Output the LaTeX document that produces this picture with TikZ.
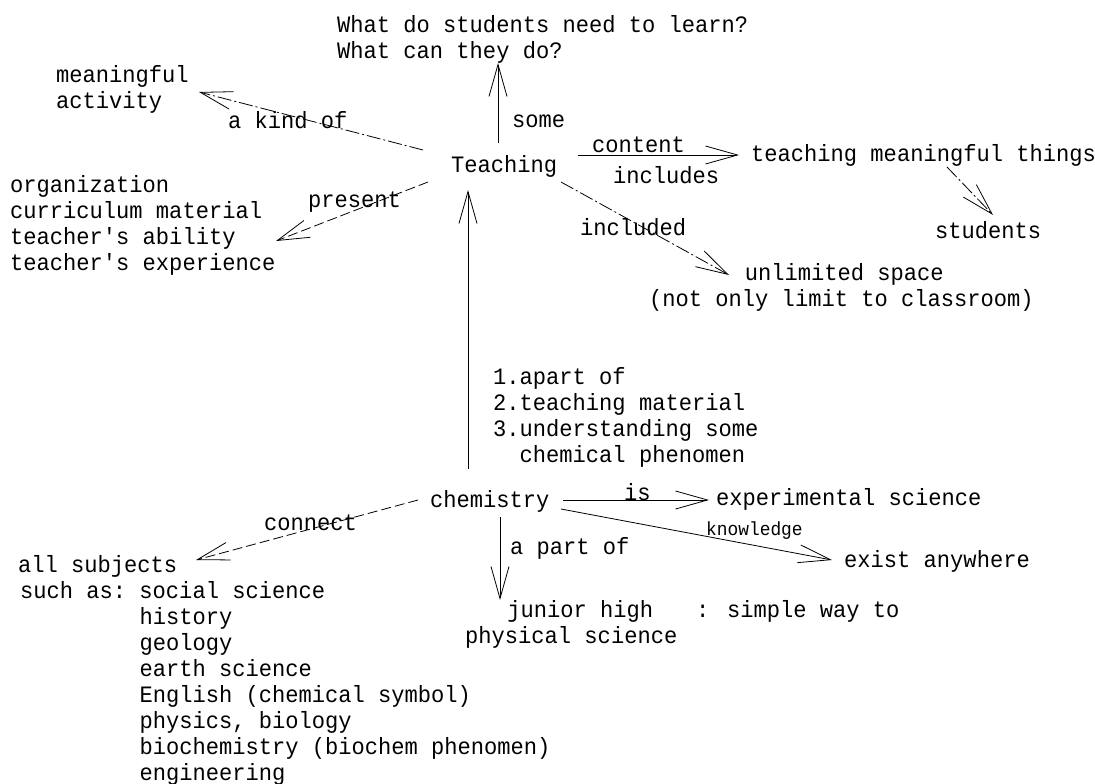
\documentclass[tikz,border=0pt]{standalone}
\usepackage{fontspec}
\setmainfont{Liberation Mono}[FakeStretch=0.94, WordSpace={1,0,0}, Ligatures=TeXOff]
\usetikzlibrary{arrows.meta}
\tikzset{
  concept/.style={inner sep=0pt, anchor=base west, font=\fontsize{23.5}{26}\selectfont},
  block/.style={concept, text width=#1,
    execute at begin node={\spaceskip=\fontdimen2\font\xspaceskip=\fontdimen2\font\relax}},
  lbl/.style={concept},
  smalllbl/.style={inner sep=0pt, anchor=base west, font=\fontsize{19}{21}\selectfont},
  link/.style={line width=0.8pt, -{Straight Barb[length=32pt,width=18pt]}},
  broken/.style={link, dash pattern=on 14pt off 3pt on 2pt off 3pt},
  dashlink/.style={link, dash pattern=on 10pt off 4pt}
}
\begin{document}
\begin{tikzpicture}[x=1pt,y=-1pt]
  \useasboundingbox (0,0) rectangle (1095,784);
  \node[block=440pt] (need) at (337,33) {What do students need to learn?\\What can they do?};
  \node[block=160pt] (meaning) at (56,82) {meaningful\\activity};
  \node[concept] (teach) at (451,172) {Teaching};
  \node[block=300pt] (orgs) at (10,192) {organization\\curriculum material\\teacher's ability\\teacher's experience};
  \node[concept] (things) at (751,161) {teaching meaningful things};
  \node[concept] (students) at (935,238) {students};
  \node[block=390pt] (space) at (649,280) {\centering unlimited space\\(not only limit to classroom)};
  \node[concept] (chem) at (430,507) {chemistry};
  \node[concept] (expsci) at (716,505) {experimental science};
  \node[concept] (exist) at (844,567) {exist anywhere};
  \node[block=230pt] (jhigh) at (465,617) {\centering junior high\\physical science};
  \node[concept] (simple) at (696,617) {: simple way to};
  \node[concept] (allsub) at (18,572) {all subjects};
  \node[block=600pt] (suchas) at (20,598) {such as: social science\\
    \phantom{such as: }history\\\phantom{such as: }geology\\
    \phantom{such as: }earth science\\\phantom{such as: }English (chemical symbol)\\
    \phantom{such as: }physics, biology\\\phantom{such as: }biochemistry (biochem phenomen)\\
    \phantom{such as: }engineering};

  \node[lbl] (l-some) at (512,127) {some};
  \node[lbl] (l-kind) at (228,128) {a kind of};
  \node[lbl] (l-present) at (308,207) {present};
  \node[lbl] (l-content) at (592,152) {content};
  \node[lbl] (l-includes) at (613,183) {includes};
  \node[lbl] (l-included) at (580,235) {included};
  \node[block=320pt] (l-reasons) at (493,384) {1.apart of\\2.teaching material\\3.understanding some\\\phantom{1.}chemical phenomen};
  \node[lbl] (l-connect) at (264,530) {connect};
  \node[lbl] (l-partof) at (510,554) {a part of};
  \node[lbl] (l-is) at (624,500) {is};
  \node[smalllbl] (l-know) at (706,535) {knowledge};

  \draw[link] ([shift={(47,-29)}]teach.base west) -- ([shift={(161,30)}]need.base west);
  \draw[broken] ([shift={(-28,-22)}]teach.base west) -- ([shift={(143,10)}]meaning.base west);
  \draw[dashlink] ([shift={(-23,10)}]teach.base west) -- ([shift={(266,49)}]orgs.base west);
  \draw[link] ([shift={(127,-17)}]teach.base west) -- ([shift={(-12,-6)}]things.base west);
  \draw[broken] ([shift={(196,6)}]things.base west) -- ([shift={(58,-23)}]students.base west);
  \draw[broken] ([shift={(110,10)}]teach.base west) -- ([shift={(80,-5)}]space.base west);
  \draw[link] ([shift={(38,-38)}]chem.base west) -- ([shift={(17,18)}]teach.base west);
  \draw[dashlink] ([shift={(-12,-7)}]chem.base west) -- ([shift={(178,-12)}]allsub.base west);
  \draw[link] ([shift={(70,10)}]chem.base west) -- ([shift={(35,-17)}]jhigh.base west);
  \draw[link] ([shift={(133,-7)}]chem.base west) -- ([shift={(-7,-5)}]expsci.base west);
  \draw[link] ([shift={(131,2)}]chem.base west) -- ([shift={(-12,-7)}]exist.base west);
\end{tikzpicture}
\end{document}
